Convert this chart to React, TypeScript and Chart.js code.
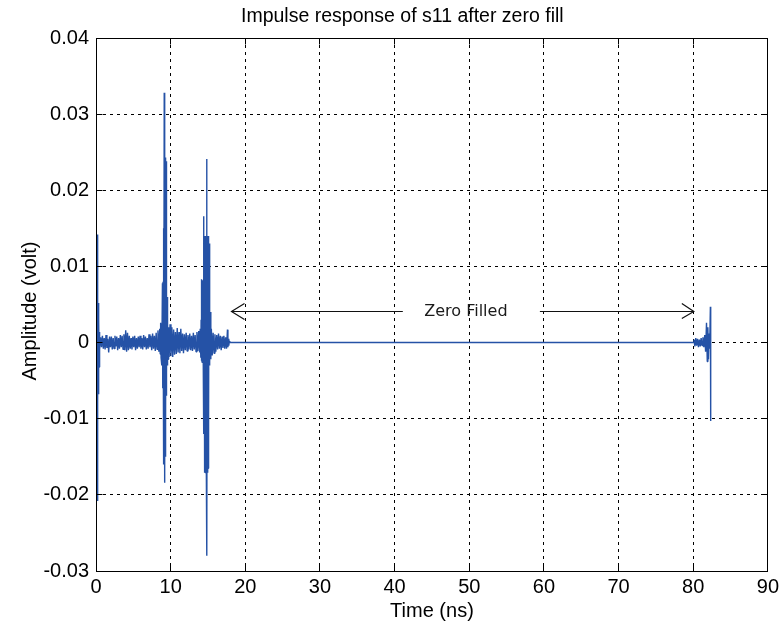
import { useEffect, useRef } from "react";
import { Chart, registerables } from "chart.js";

Chart.register(...registerables);

// Sampled impulse response of s11 (time in ns, amplitude in volts)
const timeNs = [
  // port reflection
  0, 0.16, 0.19, 0.22, 0.25, 0.28, 0.31, 0.34, 0.37, 0.4, 0.43, 0.46,
  // noise floor
  0.5, 0.62, 0.74, 0.86, 0.98, 1.1, 1.22, 1.34, 1.46, 1.58,
  1.7, 1.82, 1.94, 2.06, 2.18, 2.3, 2.42, 2.54, 2.66, 2.78,
  2.9, 3.02, 3.14, 3.26, 3.38, 3.5, 3.62, 3.74, 3.86, 3.98,
  4.1, 4.22, 4.34, 4.46, 4.58, 4.7, 4.82, 4.94, 5.06, 5.18,
  5.3, 5.42, 5.54, 5.66, 5.78, 5.9, 6.02, 6.14, 6.26, 6.38,
  6.5, 6.62, 6.74, 6.86, 6.98, 7.1, 7.22, 7.34, 7.46, 7.58,
  7.7, 7.82, 7.94, 8.06, 8.18, 8.3, 8.42,
  // first reflection
  8.54, 8.6, 8.66, 8.72, 8.78, 8.84, 8.9, 8.94, 8.98, 9.02,
  9.06, 9.1, 9.14, 9.17, 9.2, 9.23, 9.26, 9.29, 9.32, 9.35,
  9.38, 9.41, 9.44, 9.48, 9.52, 9.56, 9.61, 9.66, 9.72,
  // ringing between reflections
  9.8, 9.92, 10.04, 10.16, 10.28, 10.4, 10.52, 10.64, 10.76, 10.88,
  11, 11.12, 11.24, 11.36, 11.48, 11.6, 11.72, 11.84, 11.96, 12.08,
  12.2, 12.32, 12.44, 12.56, 12.68, 12.8, 12.92, 13.04, 13.16, 13.28,
  13.4, 13.52, 13.64, 13.76, 13.88, 13.96,
  // second reflection
  14.04, 14.08, 14.12, 14.16, 14.2, 14.24, 14.28, 14.32, 14.37, 14.41,
  14.45, 14.49, 14.53, 14.57, 14.61, 14.65, 14.69, 14.73, 14.78, 14.82,
  14.86, 14.9, 14.94, 14.98, 15.02, 15.06, 15.1, 15.14, 15.18, 15.22,
  15.27, 15.32, 15.38,
  // tail of measured record
  15.45, 15.57, 15.69, 15.81, 15.93, 16.05, 16.17, 16.29, 16.41, 16.53,
  16.65, 16.77, 16.89, 17.01, 17.13, 17.25, 17.37, 17.49, 17.61, 17.67,
  17.73, 17.79, 17.85, 17.92,
  // zero-filled span
  80.05,
  // wrap-around at the end of the record
  80.1, 80.22, 80.34, 80.46, 80.58, 80.7, 80.82, 80.94, 81.06, 81.18,
  81.3, 81.42, 81.54, 81.66, 81.78, 81.88, 81.96, 82.04, 82.12, 82.2,
  82.3, 82.34,
];

const amplitudeV = [
  0, 0.0142, -0.0208, 0.0059, -0.0075, 0.0052, -0.0068, 0.0045, -0.006, 0.003, -0.0032, 0.0014,
  -0.0009, 0.0007, -0.0006, 0.0009, -0.0008, 0.0006, -0.0009, 0.001, -0.0007, 0.0005,
  -0.0013, 0.0008, -0.0006, 0.0008, -0.0009, 0.0006, -0.0008, 0.0009, -0.0005, 0.0008,
  -0.001, 0.0006, -0.0008, 0.001, -0.0006, 0.0009, -0.0009, 0.0011, -0.001, 0.0016,
  -0.0012, 0.0013, -0.001, 0.0009, -0.0008, 0.0006, -0.0009, 0.0008, -0.0006, 0.0009,
  -0.001, 0.0006, -0.0008, 0.0008, -0.0006, 0.0009, -0.0008, 0.0006, -0.0009, 0.001,
  -0.0006, 0.0008, -0.0009, 0.0006, -0.0008, 0.0011, -0.0006, 0.0009, -0.001, 0.0012,
  -0.0008, 0.0009, -0.0011, 0.0013, -0.0009, 0.0016, -0.0012,
  0.0018, -0.0015, 0.0026, -0.002, 0.0024, -0.003, 0.0078, -0.006, 0.008, -0.0095,
  0.015, -0.016, 0.0328, -0.0184, 0.0243, -0.0162, 0.0243, -0.015, 0.024, -0.011,
  0.0238, -0.007, 0.02, -0.004, 0.006, -0.003, 0.0025, -0.0022, 0.002,
  -0.0019, 0.0024, -0.0018, 0.002, -0.0019, 0.0017, -0.0016, 0.0014, -0.0015, 0.0019,
  -0.0013, 0.0014, -0.0014, 0.0018, -0.0011, 0.0012, -0.0014, 0.0011, -0.001, 0.0013,
  -0.0011, 0.001, -0.0009, 0.0012, -0.001, 0.0009, -0.0011, 0.0013, -0.0009, 0.001,
  -0.0012, 0.0014, -0.0011, 0.0015, -0.0013, 0.0018,
  -0.002, 0.003, -0.0024, 0.0083, -0.0026, 0.008, -0.0026, 0.0082, -0.003, 0.0166,
  -0.012, 0.014, -0.0171, 0.014, -0.017, 0.0138, -0.0171, 0.014, -0.0168, 0.0241,
  -0.028, 0.014, -0.0171, 0.0138, -0.0165, 0.014, -0.01, 0.013, -0.003, 0.009,
  -0.0027, 0.004, -0.0022,
  0.0018, -0.0017, 0.0013, -0.0014, 0.0011, -0.0012, 0.001, -0.0009, 0.0012, -0.0008,
  0.0009, -0.001, 0.0008, -0.0007, 0.0009, -0.0008, 0.0007, -0.0008, 0.0017, -0.0006,
  0.0005, -0.0004, 0.0002, 0,
  0,
  0.0004, -0.0005, 0.0006, -0.0004, 0.0005, -0.0006, 0.0004, -0.0005, 0.0006, -0.0004,
  0.0007, -0.0006, 0.001, -0.0012, 0.0026, -0.0025, 0.002, -0.0022, 0.0012, -0.0008,
  0.0047, -0.0103,
];

const timeTicks = [0, 10, 20, 30, 40, 50, 60, 70, 80, 90];
const amplitudeTicks = [-0.03, -0.02, -0.01, 0, 0.01, 0.02, 0.03, 0.04];
const amplitudeTickLabels = ["-0.03", "-0.02", "-0.01", "0", "0.01", "0.02", "0.03", "0.04"];

// "Zero Filled" double arrow, in data coordinates
const arrowLevel = 0.0041;
const arrowLeftTip = 18.15;
const arrowLeftEnd = 41.1;
const arrowRightStart = 59.46;
const arrowRightTip = 80.08;
const arrowLabelAt = 49.55;

const AXIS_FONT = '"Liberation Sans", Arial, sans-serif';

function align(px: number) {
  return Math.round(px - 0.5) + 0.5;
}

const decorations = {
  id: "decorations",
  afterDraw(chart: any) {
    const { ctx, chartArea: a, scales } = chart;
    const xs = scales.x;
    const ys = scales.y;
    const L = align(a.left);
    const R = align(a.right);
    const T = align(a.top);
    const B = align(a.bottom);
    ctx.save();
    ctx.setLineDash([]);
    ctx.strokeStyle = "#000";
    ctx.lineWidth = 1;

    // inward tick marks on all four sides
    ctx.beginPath();
    for (const t of timeTicks) {
      const px = align(xs.getPixelForValue(t));
      ctx.moveTo(px, B);
      ctx.lineTo(px, B - 6);
      ctx.moveTo(px, T);
      ctx.lineTo(px, T + 6);
    }
    for (const v of amplitudeTicks) {
      const py = align(ys.getPixelForValue(v));
      ctx.moveTo(L, py);
      ctx.lineTo(L + 6, py);
      ctx.moveTo(R, py);
      ctx.lineTo(R - 6, py);
    }
    ctx.stroke();
    ctx.strokeRect(L, T, R - L, B - T);

    // title and axis titles
    ctx.fillStyle = "#000";
    ctx.font = `19.5px ${AXIS_FONT}`;
    ctx.textAlign = "left";
    ctx.textBaseline = "alphabetic";
    ctx.fillText("Impulse response of s11 after zero fill", 241, 21.5);

    ctx.font = `20px ${AXIS_FONT}`;
    ctx.textAlign = "center";
    ctx.fillText("Time (ns)", (a.left + a.right) / 2, 617);

    ctx.save();
    ctx.translate(36, 311);
    ctx.rotate(-Math.PI / 2);
    ctx.fillText("Amplitude (volt)", 0, 0);
    ctx.restore();

    // zero-fill annotation
    const ay = align(ys.getPixelForValue(arrowLevel));
    const x1 = xs.getPixelForValue(arrowLeftTip);
    const x2 = xs.getPixelForValue(arrowLeftEnd);
    const x3 = xs.getPixelForValue(arrowRightStart);
    const x4 = xs.getPixelForValue(arrowRightTip);
    ctx.strokeStyle = "#111";
    ctx.lineWidth = 1.2;
    ctx.beginPath();
    ctx.moveTo(x1, ay);
    ctx.lineTo(x2, ay);
    ctx.moveTo(x1 + 13, ay - 8);
    ctx.lineTo(x1, ay);
    ctx.lineTo(x1 + 13, ay + 8);
    ctx.moveTo(x3, ay);
    ctx.lineTo(x4, ay);
    ctx.moveTo(x4 - 12, ay - 8);
    ctx.lineTo(x4, ay);
    ctx.lineTo(x4 - 12, ay + 7);
    ctx.stroke();

    ctx.fillStyle = "#1a1a1a";
    ctx.font = '16px "DejaVu Sans", sans-serif';
    ctx.textAlign = "center";
    ctx.textBaseline = "middle";
    ctx.fillText("Zero Filled", xs.getPixelForValue(arrowLabelAt), ay);
    ctx.restore();
  },
};

export default function App() {
  const canvasRef = useRef<HTMLCanvasElement | null>(null);

  useEffect(() => {
    const canvas = canvasRef.current;
    if (!canvas) return;
    const points = timeNs.map((t, i) => ({ x: t, y: amplitudeV[i] }));
    const chart = new Chart(canvas, {
      type: "line",
      data: {
        datasets: [
          {
            data: points,
            borderColor: "#2552a6",
            borderWidth: 1.4,
            borderJoinStyle: "bevel",
            pointRadius: 0,
            tension: 0,
            fill: false,
          },
        ],
      },
      options: {
        animation: false,
        responsive: false,
        events: [],
        layout: { padding: { left: 0, top: 38, right: 15, bottom: 0 } },
        plugins: {
          legend: { display: false },
          tooltip: { enabled: false },
          title: { display: false },
        },
        scales: {
          x: {
            type: "linear",
            min: 0,
            max: 90,
            afterBuildTicks: (s: any) => {
              s.ticks = timeTicks.map((v) => ({ value: v }));
            },
            afterFit: (s: any) => {
              s.height = 58;
            },
            grid: { color: "#000", lineWidth: 1, drawTicks: false },
            border: { display: false, dash: [3, 4] },
            ticks: {
              autoSkip: false,
              maxRotation: 0,
              padding: 4,
              color: "#000",
              font: { family: AXIS_FONT, size: 20 },
            },
          },
          y: {
            type: "linear",
            min: -0.03,
            max: 0.04,
            afterBuildTicks: (s: any) => {
              s.ticks = amplitudeTicks.map((v) => ({ value: v }));
            },
            afterFit: (s: any) => {
              s.width = 96;
            },
            grid: { color: "#000", lineWidth: 1, drawTicks: false },
            border: { display: false, dash: [3, 4] },
            ticks: {
              autoSkip: false,
              padding: 7,
              color: "#000",
              font: { family: AXIS_FONT, size: 20 },
              callback: (_v: any, i: number) => amplitudeTickLabels[i],
            },
          },
        },
      },
      plugins: [decorations],
    });
    return () => chart.destroy();
  }, []);

  return (
    <div style={{ position: "absolute", left: 0, top: 0, width: 783, height: 629, background: "#fff" }}>
      <canvas ref={canvasRef} width={783} height={629} style={{ display: "block" }} />
    </div>
  );
}
